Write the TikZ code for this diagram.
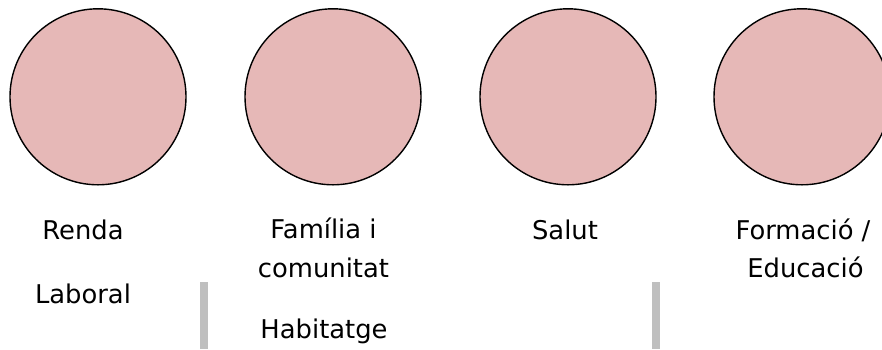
\documentclass[tikz,border=0pt]{standalone}
\usepackage{fontspec}
\setmainfont{DejaVu Sans}
\definecolor{bubblefill}{HTML}{E6B8B7}
\definecolor{barfill}{HTML}{BFBFBF}
\tikzset{
  bubble/.style={circle, draw=black, line width=1.4pt, fill=bubblefill, minimum size=176pt, inner sep=0pt},
  lbl/.style={anchor=base, inner sep=0pt, font=\fontsize{25.8}{39}\selectfont},
  bar/.style={fill=barfill, draw=none}
}
\begin{document}
\begin{tikzpicture}[x=1pt,y=-1pt]
\useasboundingbox (0,0) rectangle (882,349);
\clip (0,0) rectangle (882,349);
\node[bubble] (c1) at (98,96.8) {};
\node[bubble] (c2) at (333,96.8) {};
\node[bubble] (c3) at (568,96.8) {};
\node[bubble] (c4) at (802,96.8) {};
\node[lbl] (renda) at (83,239) {Renda};
\node[lbl] (laboral) at (83,303) {Laboral};
\node[lbl] (fam1) at (323.5,238) {Família i};
\node[lbl] (fam2) at (323.5,277) {comunitat};
\node[lbl] (hab) at (324,338) {Habitatge};
\node[lbl] (salut) at (565,239) {Salut};
\node[lbl] (form1) at (803,239) {Formació /};
\node[lbl] (form2) at (805.5,277) {Educació};
\fill[bar] (200,282) rectangle (208.3,349);
\fill[bar] (651.7,282) rectangle (660,349);
\end{tikzpicture}
\end{document}
